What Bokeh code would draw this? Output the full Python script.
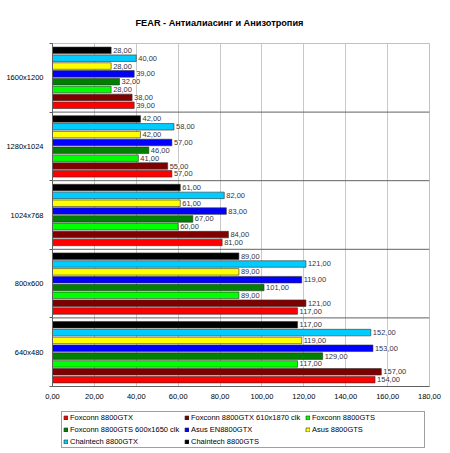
from bokeh.plotting import figure
from bokeh.models import (Range1d, FixedTicker, Span, Legend, LegendItem,
                          ColumnDataSource)
from bokeh.layouts import column
from bokeh.transform import dodge
from bokeh.core.properties import value
from bokeh.embed import file_html
from bokeh.resources import INLINE

# ---- data ----
title = "FEAR - Антиалиасинг и Анизотропия"
categories = ["640x480", "800x600", "1024x768", "1280x1024", "1600x1200"]  # bottom -> top
series = ["Foxconn 8800GTX", "Foxconn 8800GTX 610x1870 clk", "Foxconn 8800GTS",
          "Foxconn 8800GTS 600x1650 clk", "Asus EN8800GTX", "Asus 8800GTS",
          "Chaintech 8800GTX", "Chaintech 8800GTS"]
foxconn_gtx = [154, 117, 81, 57, 39]
foxconn_gtx_oc = [157, 121, 84, 55, 38]
foxconn_gts = [117, 89, 60, 41, 28]
foxconn_gts_oc = [129, 101, 67, 46, 32]
asus_gtx = [153, 119, 83, 57, 39]
asus_gts = [119, 89, 61, 42, 28]
chaintech_gtx = [152, 121, 82, 58, 40]
chaintech_gts = [117, 89, 61, 42, 28]
values = [foxconn_gtx, foxconn_gtx_oc, foxconn_gts, foxconn_gts_oc,
          asus_gtx, asus_gts, chaintech_gtx, chaintech_gts]
colors = ["#FF0000", "#800000", "#00FF00", "#008000",
          "#0000FF", "#FFFF00", "#00CCFF", "#000000"]
x_ticks = list(range(0, 181, 20))

FONT = "Liberation Sans"
W = 450

p = figure(width=W, height=405, output_backend="svg", toolbar_location=None,
           x_range=Range1d(0, 180), y_range=Range1d(-0.5, len(categories) - 0.5),
           min_border_left=52, min_border_right=21, min_border_top=43,
           min_border_bottom=19)

p.title.text = title
p.title.align = "left"
p.title.offset = 83
p.title.text_font = FONT
p.title.text_font_size = "9.2px"
p.title.text_font_style = "bold"
p.title.text_color = "#000000"
p.title.standoff = 31

p.outline_line_color = "#c0c0c0"
p.outline_line_width = 1
p.background_fill_color = "white"

# x axis
xa = p.xaxis[0]
xa.ticker = FixedTicker(ticks=x_ticks, minor_ticks=[])
xa.major_label_overrides = {t: f"{t:.2f}".replace(".", ",") for t in x_ticks}
xa.major_label_text_font = FONT
xa.major_label_text_font_size = "7.5px"
xa.major_label_text_color = "#000000"
xa.axis_line_color = "#606060"
xa.major_tick_line_color = None
xa.major_tick_out = 0
xa.major_tick_in = 0
xa.major_label_standoff = 7

# y axis
ya = p.yaxis[0]
ncat = len(categories)
ya.ticker = FixedTicker(ticks=list(range(ncat)),
                        minor_ticks=[i - 0.5 for i in range(ncat + 1)])
ya.major_label_overrides = {i: c for i, c in enumerate(categories)}
ya.major_label_text_font = FONT
ya.major_label_text_font_size = "7.5px"
ya.major_label_text_color = "#000000"
ya.major_tick_line_color = None
ya.major_tick_out = 0
ya.major_tick_in = 0
ya.minor_tick_in = 0
ya.minor_tick_out = 3
ya.minor_tick_line_color = "#606060"
ya.axis_line_color = "#606060"
ya.major_label_standoff = 6

p.xgrid.ticker = FixedTicker(ticks=x_ticks)
p.xgrid.grid_line_color = "#c8c8c8"
p.ygrid.grid_line_color = None

for b in range(1, ncat):
    p.add_layout(Span(location=b - 0.5, dimension="width",
                      line_color="#606060", line_width=1))

# legend panel (same bars drawn off-view so the legend has real glyphs);
# its frame is aligned with the main frame horizontally
lp = figure(width=W, height=48, output_backend="svg", toolbar_location=None,
            x_range=Range1d(0, 1), y_range=Range1d(100, 101),
            min_border_left=52, min_border_top=0, min_border_right=21,
            min_border_bottom=0, x_axis_type=None, y_axis_type=None)
lp.outline_line_color = None
lp.xgrid.visible = False
lp.ygrid.visible = False

slot = 0.1143
bar_h = 0.095
items = []
for s, (name, vals, col) in enumerate(zip(series, values, colors)):
    src = ColumnDataSource(dict(yc=list(range(ncat)), v=vals,
                                lab=[f"{v:.2f}".replace(".", ",") for v in vals]))
    off = (s - 3.5) * slot
    p.hbar(y=dodge("yc", off), right="v", left=0, height=bar_h, source=src,
           fill_color=col, line_color="#303030", line_width=0.6)
    p.text(x="v", y=dodge("yc", off), text="lab", source=src,
           x_offset=2, text_baseline="middle", text_align="left",
           text_font=value(FONT), text_font_size="7.5px", text_color="#333344",
           background_fill_color="white")
    r = lp.hbar(y=dodge("yc", off), right="v", left=0, height=bar_h, source=src,
                fill_color=col, line_color="#303030", line_width=0.6)
    items.append(LegendItem(label=name, renderers=[r]))

legend = Legend(items=items, ncols=3, orientation="horizontal",
                label_text_font=FONT, label_text_font_size="7.5px",
                label_text_color="#000000",
                glyph_width=5, glyph_height=5, label_standoff=2,
                label_height=8, label_width=111, spacing=3, padding=1, margin=0,
                border_line_color="#404040", border_line_width=1,
                location=(9, 5), label_text_line_height=1.0)
lp.add_layout(legend, "center")

layout = column(p, lp, spacing=0)
open("out.html", "w").write(file_html(layout, INLINE))
